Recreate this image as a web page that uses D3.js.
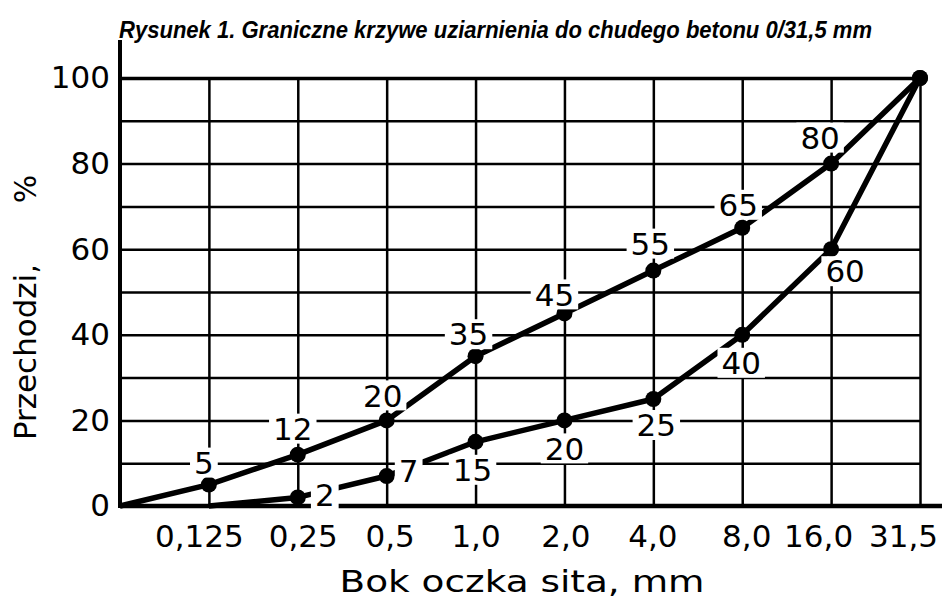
<!DOCTYPE html>
<html>
  <head>
    <meta charset="utf-8">
    <script src="https://d3js.org/d3.v7.min.js"></script>
    <style>
      body { margin: 0px; background: #fff; }
      .tick text, .val-label, .axis-label {
        font-family: 'DejaVu Sans', sans-serif;
        fill: #000;
      }
      .title {
        font-family: 'Liberation Sans Narrow', 'Liberation Sans', sans-serif;
        font-weight: bold;
        font-style: italic;
        font-size: 24px;
      }
    </style>
  </head>
  <body>
    <svg width="942" height="598"></svg>
    <script>
      // sieve sizes (first one is the origin, no label)
      const sieves = ['0', '0,125', '0,25', '0,5', '1,0', '2,0', '4,0', '8,0', '16,0', '31,5'];
      const upperCurve = [0, 5, 12, 20, 35, 45, 55, 65, 80, 100];
      const lowerCurve = [null, 0, 2, 7, 15, 20, 25, 40, 60, 100];
      const yTicks = [0, 10, 20, 30, 40, 50, 60, 70, 80, 90, 100];

      // label placement (pixels from the point)
      const upperLabelOffset = [null, [-5, -22], [-5, -26], [-4, -25], [-7, -22], [-10, -19], [-3, -27], [-4, -23], [-11, -26], null];
      const lowerLabelOffset = [null, null, [27, -3], [22, -5], [-3, 28], [0, 28], [3, 26], [-1, 28], [14, 22], null];
      const xTickShift = [0, -10, 5, 3, 0, 1, -1, 4, -13, -17];

      const svg = d3.select('svg');
      const x0 = 120, x1 = 920, yBottom = 506, yTop = 78;

      const xScale = d3.scalePoint().domain(sieves).range([x0, x1]);
      const yScale = d3.scaleLinear().domain([0, 100]).range([yBottom, yTop]);

      svg.append('text')
        .attr('class', 'title')
        .attr('x', 119)
        .attr('y', 38)
        .attr('textLength', 753)
        .attr('lengthAdjust', 'spacingAndGlyphs')
        .text('Rysunek 1. Graniczne krzywe uziarnienia do chudego betonu 0/31,5 mm');

      // grid via axes
      const xAxis = d3.axisBottom(xScale)
        .tickValues(sieves.slice(1))
        .tickSize(-(yBottom - yTop))
        .tickPadding(19);
      const yAxis = d3.axisLeft(yScale)
        .tickValues(yTicks)
        .tickSize(-(x1 - x0))
        .tickPadding(10)
        .tickFormat(d => d % 20 === 0 ? d : '');

      const xAxisG = svg.append('g')
        .attr('transform', `translate(0,${yBottom})`)
        .call(xAxis);
      const yAxisG = svg.append('g')
        .attr('transform', `translate(${x0},0)`)
        .call(yAxis);

      [xAxisG, yAxisG].forEach(g => {
        g.select('.domain').remove();
        g.selectAll('.tick line').attr('stroke', '#000').attr('stroke-width', 2.5);
        g.selectAll('.tick text').style('font-size', '31px');
      });
      yAxisG.selectAll('.tick')
        .filter(d => d === 0)
        .select('line').remove();
      yAxisG.selectAll('.tick')
        .filter(d => d === 100)
        .select('line').attr('stroke-width', 3.5);
      xAxisG.selectAll('.tick text')
        .attr('dx', (d, i) => xTickShift[i + 1]);

      // main axis lines
      svg.append('line')
        .attr('x1', x0).attr('x2', 942)
        .attr('y1', yBottom).attr('y2', yBottom)
        .attr('stroke', '#000').attr('stroke-width', 4.5);
      svg.append('line')
        .attr('x1', x0).attr('x2', x0)
        .attr('y1', yBottom + 2).attr('y2', 40)
        .attr('stroke', '#000').attr('stroke-width', 4);

      // axis titles
      svg.append('text')
        .attr('class', 'axis-label')
        .attr('x', 522)
        .attr('y', 592)
        .attr('text-anchor', 'middle')
        .attr('textLength', 365)
        .attr('lengthAdjust', 'spacingAndGlyphs')
        .style('font-size', '30px')
        .text('Bok oczka sita, mm');

      svg.append('text')
        .attr('class', 'axis-label')
        .attr('transform', 'translate(36,352) rotate(-90)')
        .attr('text-anchor', 'middle')
        .attr('textLength', 176)
        .attr('lengthAdjust', 'spacingAndGlyphs')
        .style('font-size', '30px')
        .text('Przechodzi,');
      svg.append('text')
        .attr('class', 'axis-label')
        .attr('transform', 'translate(36,189) rotate(-90)')
        .attr('text-anchor', 'middle')
        .style('font-size', '30px')
        .text('%');

      // curves
      const line = d3.line()
        .defined(d => d[1] !== null)
        .x(d => xScale(d[0]))
        .y(d => yScale(d[1]));

      const curves = [
        { values: upperCurve, offsets: upperLabelOffset },
        { values: lowerCurve, offsets: lowerLabelOffset }
      ];

      curves.forEach(c => {
        const pts = sieves.map((s, i) => [s, c.values[i], c.offsets[i]]);
        svg.append('path')
          .datum(pts)
          .attr('d', line)
          .attr('fill', 'none')
          .attr('stroke', '#000')
          .attr('stroke-width', 5.5)
          .attr('stroke-linejoin', 'round');
        svg.append('g').selectAll('circle')
          .data(pts.filter(d => d[1] !== null && d[1] > 0))
          .enter().append('circle')
            .attr('cx', d => xScale(d[0]))
            .attr('cy', d => yScale(d[1]))
            .attr('r', 8)
            .attr('fill', '#000');
      });

      // value labels with white knock-out behind them
      const labelG = svg.append('g');
      curves.forEach(c => {
        sieves.forEach((s, i) => {
          const off = c.offsets[i];
          if (!off) return;
          const cx = xScale(s) + off[0];
          const cy = yScale(c.values[i]) + off[1];
          const bg = labelG.append('rect').attr('fill', '#fff');
          const t = labelG.append('text')
            .attr('class', 'val-label')
            .attr('x', cx)
            .attr('y', cy)
            .attr('dy', '0.36em')
            .attr('text-anchor', 'middle')
            .style('font-size', '31px')
            .text(c.values[i]);
          const bb = t.node().getBBox();
          bg.attr('x', bb.x - 4).attr('y', cy - 15)
            .attr('width', bb.width + 8).attr('height', 30);
        });
      });
    </script>
  </body>
</html>
